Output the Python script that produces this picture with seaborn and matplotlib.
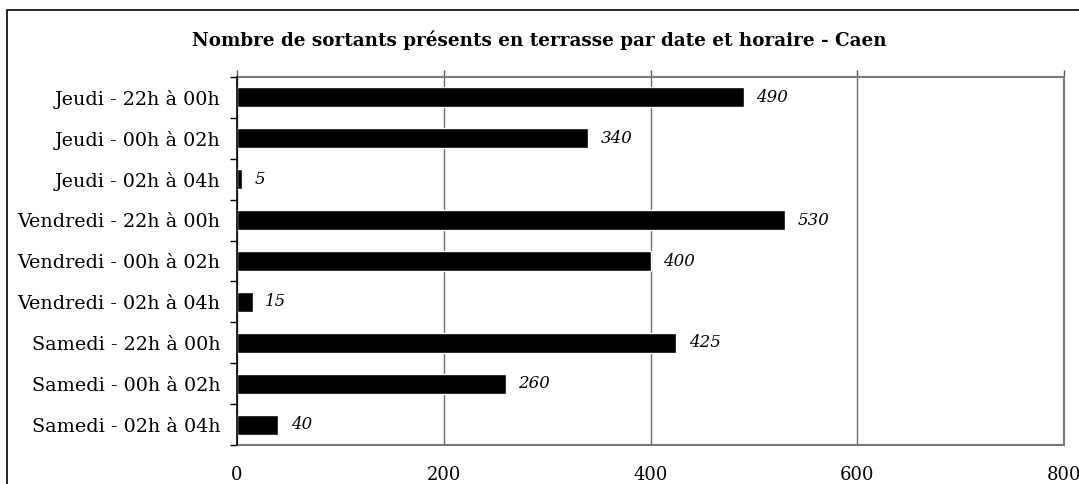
import matplotlib
matplotlib.use("Agg")
import matplotlib.pyplot as plt
import seaborn as sns
import pandas as pd
import numpy as np
from matplotlib.patches import Rectangle

# Sortants observés en terrasse, par soirée et par tranche horaire
categories = [
    "Jeudi - 22h à 00h",
    "Jeudi - 00h à 02h",
    "Jeudi - 02h à 04h",
    "Vendredi - 22h à 00h",
    "Vendredi - 00h à 02h",
    "Vendredi - 02h à 04h",
    "Samedi - 22h à 00h",
    "Samedi - 00h à 02h",
    "Samedi - 02h à 04h",
]
values = [490, 340, 5, 530, 400, 15, 425, 260, 40]
x_ticks = [0, 200, 400, 600, 800]
title = "Nombre de sortants présents en terrasse par date et horaire - Caen"

df = pd.DataFrame({"creneau": categories, "sortants": values})

sns.set_theme(style="white")
plt.rcParams["font.family"] = ["DejaVu Serif", "Liberation Serif"]
plt.rcParams["text.color"] = "black"
plt.rcParams["xtick.labelcolor"] = "black"
plt.rcParams["ytick.labelcolor"] = "black"

W, H = 1079, 484
fig = plt.figure(figsize=(W / 100, H / 100), dpi=100)
ax = fig.add_axes([237 / W, 1 - 445 / H, (1064 - 237) / W, (445 - 77) / H])

sns.barplot(data=df, x="sortants", y="creneau", orient="h", color="black",
            width=0.49, ax=ax, zorder=3, saturation=1)

ax.set_xlim(0, 800)
ax.set_ylim(len(categories) - 0.5, -0.5)
ax.set_xticks(x_ticks)
ax.set_xticklabels([str(t) for t in x_ticks], fontsize=13)
ax.set_xlabel("")
ax.set_ylabel("")

# vertical gridlines
ax.grid(axis="x", color="#6e6e6e", linewidth=1.0, zorder=0)
ax.grid(axis="y", visible=False)

# x ticks shown on top edge, labels underneath
ax.tick_params(axis="x", top=True, bottom=False, labeltop=False, labelbottom=True,
               direction="out", length=5, width=1, color="#555555", pad=10)
# y: tick marks between categories
ax.set_yticks(np.arange(len(categories)))
ax.set_yticklabels(categories, fontsize=13.8)
ax.set_yticks(np.arange(-0.5, len(categories)), minor=True)
ax.tick_params(axis="y", which="major", length=0, pad=12)
ax.tick_params(axis="y", which="minor", left=True, length=5, width=1,
               color="black", direction="out")

for side in ["top", "right", "bottom"]:
    ax.spines[side].set_color("#7a7a7a")
    ax.spines[side].set_linewidth(1.5)
ax.spines["left"].set_color("black")
ax.spines["left"].set_linewidth(1.2)
ax.spines["left"].set_zorder(5)

# value labels after each bar
for i, v in enumerate(values):
    ax.text(v + 12, i, str(v), va="center", ha="left", fontsize=12,
            style="italic", color="black")

fig.text(0.5, 1 - 40 / H, title, ha="center", va="center",
         fontsize=13.2, fontweight="bold", color="black")

# chart frame
fig.patches.append(Rectangle((7 / W, -0.1), 1.2, 0.1 + (1 - 9.5 / H),
                             transform=fig.transFigure, fill=False,
                             edgecolor="black", linewidth=1.2))

fig.savefig("out.png", dpi=100)
